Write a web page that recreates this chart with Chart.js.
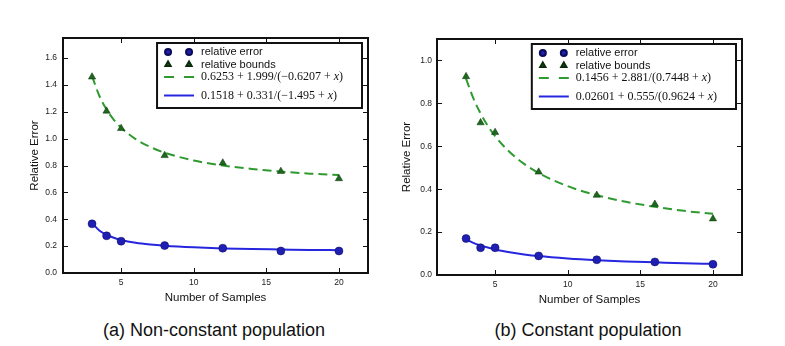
<!DOCTYPE html>
<html>
<head>
<meta charset="utf-8">
<script src="https://cdn.jsdelivr.net/npm/chart.js@4.4.1/dist/chart.umd.min.js"></script>
<style>
  body { margin: 0; background: #fff; width: 785px; height: 346px; position: relative; overflow: hidden;
         font-family: "Liberation Sans", Arial, sans-serif; }
  .panel { position: absolute; top: 0; }
  .cap { position: absolute; top: 320px; font-size: 18px; line-height: 20px; color: #111;
         transform: translateX(-50%); white-space: nowrap; }
</style>
</head>
<body>
<div class="panel" style="left:0"><canvas id="chartA" width="392" height="310"></canvas></div>
<div class="panel" style="left:392px"><canvas id="chartB" width="393" height="310"></canvas></div>
<div class="cap" style="left:214px">(a) Non-constant population</div>
<div class="cap" style="left:588px">(b) Constant population</div>

<script>
// sample sizes where errors were measured
const sampleCounts = [3, 4, 5, 8, 12, 16, 20];
const fitX = [3, 3.5, 4, 4.5, 5, 6, 7, 8, 10, 12, 14, 16, 18, 20];

// (a) non-constant population
const errorA = [0.366, 0.277, 0.237, 0.204, 0.185, 0.164, 0.164];
const boundsA = [1.46, 1.206, 1.077, 0.875, 0.82, 0.757, 0.703];
const boundsFitA = [1.466, 1.320, 1.217, 1.141, 1.082, 0.997, 0.939, 0.896, 0.838, 0.801, 0.775, 0.755, 0.740, 0.729];
const errorFitA = [0.372, 0.317, 0.284, 0.262, 0.246, 0.225, 0.212, 0.203, 0.191, 0.183, 0.178, 0.175, 0.172, 0.170];
const fitLabelsA = ['0.6253 + 1.999/(\u22120.6207 + x)', '0.1518 + 0.331/(\u22121.495 + x)'];

// (b) constant population
const errorB = [0.17, 0.127, 0.127, 0.089, 0.071, 0.061, 0.05];
const boundsB = [0.925, 0.71, 0.665, 0.48, 0.372, 0.33, 0.262];
const boundsFitB = [0.915, 0.824, 0.753, 0.695, 0.647, 0.573, 0.518, 0.475, 0.414, 0.372, 0.341, 0.318, 0.299, 0.285];
const errorFitB = [0.166, 0.150, 0.138, 0.128, 0.119, 0.106, 0.096, 0.088, 0.077, 0.069, 0.063, 0.059, 0.055, 0.052];
const fitLabelsB = ['0.1456 + 2.881/(0.7448 + x)', '0.02601 + 0.555/(0.9624 + x)'];

// axes
const xTicks = [5, 10, 15, 20];
const yTicksA = [0, 0.2, 0.4, 0.6, 0.8, 1.0, 1.2, 1.4, 1.6];
const yTicksB = [0, 0.2, 0.4, 0.6, 0.8, 1.0];

Chart.defaults.font.family = "'Liberation Sans', Arial, sans-serif";

const BLUE = '#1f1fb4', BLUE_LINE = '#2626e0', GREEN = '#1d6a1d', GREEN_LINE = '#2f9a2f';

function pts(xs, ys) {
  return xs.map((x, i) => ({ x: x, y: ys[i] }));
}

// black frame + matplotlib style inward ticks
const framePlugin = {
  id: 'frameTicks',
  afterDatasetsDraw(chart) {
    const { ctx, chartArea: a, scales } = chart;
    ctx.save();
    ctx.strokeStyle = '#111';
    ctx.lineWidth = 1;
    scales.x.ticks.forEach(t => {
      const px = Math.round(scales.x.getPixelForValue(t.value)) + 0.5;
      ctx.beginPath();
      ctx.moveTo(px, a.bottom); ctx.lineTo(px, a.bottom - 5);
      ctx.moveTo(px, a.top); ctx.lineTo(px, a.top + 5);
      ctx.stroke();
    });
    scales.y.ticks.forEach(t => {
      const py = Math.round(scales.y.getPixelForValue(t.value)) + 0.5;
      ctx.beginPath();
      ctx.moveTo(a.left, py); ctx.lineTo(a.left + 5, py);
      ctx.moveTo(a.right, py); ctx.lineTo(a.right - 5, py);
      ctx.stroke();
    });
    ctx.lineWidth = 2;
    ctx.strokeRect(a.left, a.top, a.right - a.left, a.bottom - a.top);
    ctx.restore();
  }
};

// text with the x drawn in italic, like the tex labels
function mathParts(s) {
  const i = s.lastIndexOf('x');
  return [[s.slice(0, i), false], ['x', true], [s.slice(i + 1), false]];
}
function mathFont(it) {
  return (it ? 'italic ' : '') + '12px "Liberation Serif", "Times New Roman", serif';
}
function mathWidth(ctx, s) {
  let w = 0;
  mathParts(s).forEach(([t, it]) => { ctx.font = mathFont(it); w += ctx.measureText(t).width; });
  return w;
}

const boxLegend = {
  id: 'boxLegend',
  afterDraw(chart) {
    const { ctx, chartArea: a } = chart;
    const ds = chart.data.datasets;
    const rows = [ds[0], ds[1], ds[2], ds[3]];
    const rowY = [9, 21.5, 34, 52.5];
    ctx.save();
    let maxW = 0;
    rows.forEach(d => {
      if (d.isFit) maxW = Math.max(maxW, mathWidth(ctx, d.label));
      else { ctx.font = '11px "Liberation Sans", Arial'; maxW = Math.max(maxW, ctx.measureText(d.label).width); }
    });
    const w = 44 + maxW + 19, h = 65;
    const x0 = a.right - 6 - w, y0 = a.top + 5;
    ctx.fillStyle = '#fff';
    ctx.fillRect(x0, y0, w, h);
    ctx.strokeStyle = '#111';
    ctx.lineWidth = 2;
    ctx.strokeRect(x0, y0, w, h);

    rows.forEach((d, i) => {
      const y = y0 + rowY[i];
      if (d.isFit) {
        ctx.strokeStyle = d.borderColor;
        ctx.lineWidth = 2;
        ctx.setLineDash(d.borderDash ? [10, 10] : []);
        ctx.beginPath();
        ctx.moveTo(x0 + 7, y); ctx.lineTo(x0 + 37, y);
        ctx.stroke();
        ctx.setLineDash([]);
        let tx = x0 + 44;
        ctx.fillStyle = '#111';
        ctx.textBaseline = 'middle';
        mathParts(d.label).forEach(([t, it]) => {
          ctx.font = mathFont(it);
          ctx.fillText(t, tx, y);
          tx += ctx.measureText(t).width;
        });
      } else {
        ctx.fillStyle = d.backgroundColor;
        ctx.strokeStyle = d.borderColor;
        [x0 + 11, x0 + 32].forEach(px => {
          Chart.helpers.drawPoint(ctx, { pointStyle: d.pointStyle, radius: 3, rotation: 0, borderWidth: 0.5 }, px, y);
        });
        ctx.fillStyle = '#111';
        ctx.font = '11px "Liberation Sans", Arial';
        ctx.textBaseline = 'middle';
        ctx.fillText(d.label, x0 + 44, y);
      }
    });
    ctx.restore();
  }
};

function makeChart(id, d) {
  return new Chart(document.getElementById(id), {
    type: 'scatter',
    data: {
      datasets: [
        { label: 'relative error', data: pts(sampleCounts, d.error), pointStyle: 'circle', pointRadius: 4,
          backgroundColor: BLUE, borderColor: '#0b0b55', borderWidth: 0.5, order: 0 },
        { label: 'relative bounds', data: pts(sampleCounts, d.bounds), pointStyle: 'triangle', pointRadius: 4.2,
          backgroundColor: GREEN, borderColor: '#0b2a0b', borderWidth: 0.5, order: 1 },
        { label: d.fitLabels[0], isFit: true, data: pts(fitX, d.boundsFit), showLine: true, pointRadius: 0,
          borderColor: GREEN_LINE, borderWidth: 2, borderDash: [9, 5], cubicInterpolationMode: 'monotone', order: 3 },
        { label: d.fitLabels[1], isFit: true, data: pts(fitX, d.errorFit), showLine: true, pointRadius: 0,
          borderColor: BLUE_LINE, borderWidth: 2, cubicInterpolationMode: 'monotone', order: 2 }
      ]
    },
    options: {
      responsive: false,
      animation: false,
      events: [],
      layout: { padding: { top: d.top, right: d.right, left: 0, bottom: 0 } },
      plugins: { legend: { display: false }, tooltip: { enabled: false } },
      scales: {
        x: {
          type: 'linear', min: 1, max: 22,
          grid: { display: false, drawTicks: false }, border: { display: false },
          afterBuildTicks: s => { s.ticks = xTicks.map(v => ({ value: v })); },
          afterFit: s => { s.height = d.xHeight; },
          ticks: { font: { size: 8.5 }, color: '#222', padding: 5, callback: v => String(v) },
          title: { display: true, text: 'Number of Samples', font: { size: 11.5 }, color: '#111',
                   padding: { top: 0, bottom: d.xTitlePad } }
        },
        y: {
          min: 0, max: d.yMax,
          grid: { display: false, drawTicks: false }, border: { display: false },
          afterBuildTicks: s => { s.ticks = d.yTicks.map(v => ({ value: v })); },
          afterFit: s => { s.width = d.yWidth; },
          ticks: { font: { size: 8.5 }, color: '#222', padding: d.yTickPad, callback: v => Number(v).toFixed(1) },
          title: { display: true, text: 'Relative Error', font: { size: 11.5 }, color: '#111',
                   padding: { top: d.yTitlePad, bottom: 0 } }
        }
      }
    },
    plugins: [framePlugin, boxLegend]
  });
}

makeChart('chartA', {
  error: errorA, bounds: boundsA, boundsFit: boundsFitA, errorFit: errorFitA, fitLabels: fitLabelsA,
  yTicks: yTicksA, yMax: 1.75, top: 38, right: 24, xHeight: 37, yWidth: 63,
  xTitlePad: 5, yTitlePad: 28, yTickPad: 6
});
makeChart('chartB', {
  error: errorB, bounds: boundsB, boundsFit: boundsFitB, errorFit: errorFitB, fitLabels: fitLabelsB,
  yTicks: yTicksB, yMax: 1.1, top: 39, right: 43, xHeight: 35, yWidth: 45,
  xTitlePad: 3, yTitlePad: 8, yTickPad: 5
});
</script>
</body>
</html>
